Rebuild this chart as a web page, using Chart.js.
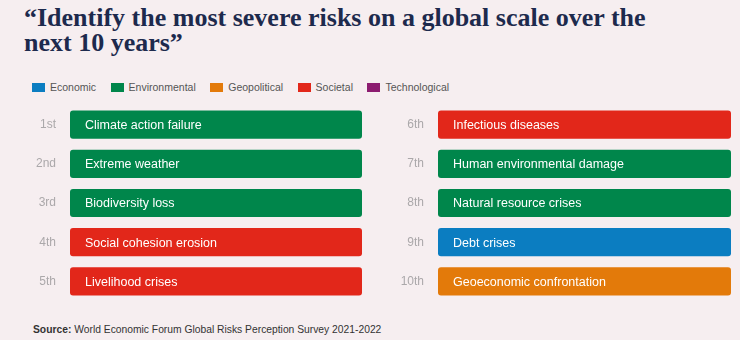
<!DOCTYPE html>
<html>
<head>
<meta charset="utf-8">
<script src="https://cdn.jsdelivr.net/npm/chart.js@4.4.1/dist/chart.umd.min.js"></script>
<style>
  html, body { margin: 0; padding: 0; }
  body { width: 740px; height: 340px; background: #F6EEF0; position: relative; overflow: hidden; font-family: 'Liberation Sans', Arial, sans-serif; }
  #title { position: absolute; left: 24px; top: 5px; margin: 0; font-family: 'Liberation Serif', serif; font-weight: bold; font-size: 26px; line-height: 25px; color: #1D2A4D; white-space: nowrap; }
  #legend { position: absolute; left: 32px; top: 81px; display: flex; font-size: 10.5px; color: #555; }
  #legend .item { display: flex; align-items: center; margin-right: 14.5px; }
  #legend .sw { width: 13px; height: 9px; margin-right: 5px; }
  canvas { position: absolute; top: 105px; }
  #leftChart { left: 0; }
  #rightChart { left: 370px; }
  #source { position: absolute; left: 33px; top: 324px; font-size: 10.3px; color: #333; }
</style>
</head>
<body>
<h1 id="title">“Identify the most severe risks on a global scale over the<br>next 10 years”</h1>
<div id="legend"></div>
<canvas id="leftChart" width="370" height="196"></canvas>
<canvas id="rightChart" width="370" height="196"></canvas>
<div id="source"><b>Source:</b> World Economic Forum Global Risks Perception Survey 2021-2022</div>

<script>
const categories = ['Economic', 'Environmental', 'Geopolitical', 'Societal', 'Technological'];
const categoryColors = ['#0B7DC1', '#00864B', '#E37A0A', '#E2271A', '#8C1C70'];

const ranks = ['1st', '2nd', '3rd', '4th', '5th', '6th', '7th', '8th', '9th', '10th'];
const risks = [
  'Climate action failure', 'Extreme weather', 'Biodiversity loss', 'Social cohesion erosion', 'Livelihood crises',
  'Infectious diseases', 'Human environmental damage', 'Natural resource crises', 'Debt crises', 'Geoeconomic confrontation'
];
const riskCategory = [
  'Environmental', 'Environmental', 'Environmental', 'Societal', 'Societal',
  'Societal', 'Environmental', 'Environmental', 'Economic', 'Geopolitical'
];
// every risk gets a full-width bar; the order is the ranking
const barValues = [1, 1, 1, 1, 1, 1, 1, 1, 1, 1];

const colorOf = name => categoryColors[categories.indexOf(name)];

// legend
const legend = document.getElementById('legend');
categories.forEach((c, i) => {
  const item = document.createElement('div');
  item.className = 'item';
  item.innerHTML = `<span class="sw" style="background:${categoryColors[i]}"></span>${c}`;
  legend.appendChild(item);
});

// writes the risk name inside each bar
const barText = {
  id: 'barText',
  afterDatasetsDraw(chart) {
    const ctx = chart.ctx;
    const names = chart.options.plugins.barText.names;
    chart.getDatasetMeta(0).data.forEach((bar, i) => {
      ctx.save();
      ctx.fillStyle = '#fff';
      ctx.font = '12.5px "Liberation Sans", Arial, sans-serif';
      ctx.textBaseline = 'middle';
      ctx.fillText(names[i], bar.base + 15, bar.y + 1);
      ctx.restore();
    });
  }
};

function makeChart(id, from, to, axisWidth, rightPad) {
  new Chart(document.getElementById(id), {
    type: 'bar',
    data: {
      labels: ranks.slice(from, to),
      datasets: [{
        data: barValues.slice(from, to),
        backgroundColor: riskCategory.slice(from, to).map(colorOf),
        borderRadius: 3,
        borderSkipped: false,
        categoryPercentage: 1,
        barPercentage: 0.72
      }]
    },
    options: {
      indexAxis: 'y',
      responsive: false,
      animation: false,
      layout: { padding: { left: 0, right: rightPad, top: 0, bottom: 0 } },
      plugins: { legend: { display: false }, tooltip: { enabled: false }, barText: { names: risks.slice(from, to) } },
      scales: {
        x: { display: false, min: 0, max: 1 },
        y: {
          grid: { display: false, drawTicks: false },
          border: { display: false },
          ticks: { color: '#ABA8AA', padding: 14, font: { family: "'Liberation Sans', Arial, sans-serif", size: 12 } },
          afterFit(scale) {
            // fixed gutter for the rank labels, rows use the full height
            scale.width = axisWidth;
            scale.paddingTop = 0;
            scale.paddingBottom = 0;
          }
        }
      }
    },
    plugins: [barText]
  });
}

makeChart('leftChart', 0, 5, 70, 8);
makeChart('rightChart', 5, 10, 68, 9);
</script>
</body>
</html>
